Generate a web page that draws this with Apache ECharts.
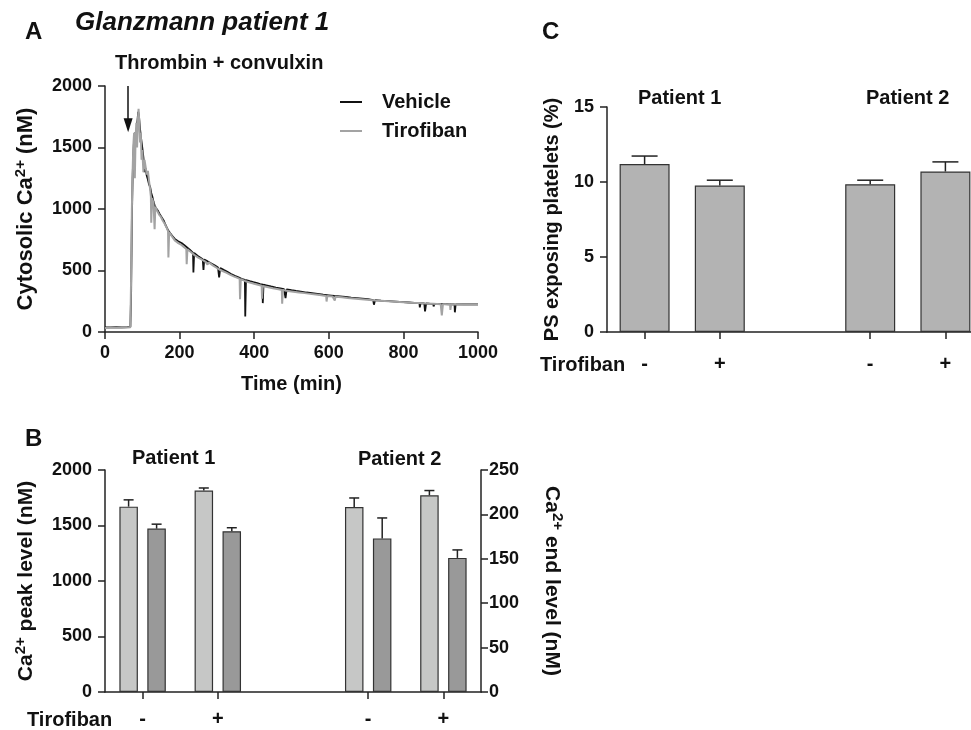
<!DOCTYPE html>
<html><head><meta charset="utf-8">
<script src="https://cdn.jsdelivr.net/npm/echarts@6/dist/echarts.min.js"></script>
<style>html,body{margin:0;padding:0;background:#fff}#c{width:971px;height:730px}</style>
</head><body><div id="c"></div>
<script>
const FONT = '"Liberation Sans", Arial, Helvetica, sans-serif';

// ---------- Panel A: cytosolic Ca2+ traces [time (min), nM] ----------
const vehicleTrace = [[0,38],[15,37],[30,39],[45,38],[60,40],[68,42],[70,300],[72,900],[74,1250],[76,1450],[78,1560],[80,1620],[83,1600],[86,1680],[89,1790],[91,1760],[94,1650],[97,1570],[100,1500],[103,1420],[106,1300],[109,1330],[112,1270],[115,1240],[118,1200],[121,1180],[124,1130],[127,1100],[130,1060],[133,1030],[136,1010],[139,995],[142,985],[146,962],[150,942],[155,940],[158,902],[162,872],[166,847],[170,822],[175,802],[180,782],[187,757],[195,740],[205,724],[212,707],[220,687],[228,667],[236,644],[237,484],[239,642],[248,620],[256,604],[262,592],[264,505],[266,590],[275,574],[285,557],[295,540],[303,524],[306,443],[309,520],[318,505],[328,489],[338,472],[348,457],[358,444],[366,432],[375,424],[376,127],[378,422],[388,413],[398,405],[408,398],[416,390],[422,387],[423,235],[425,385],[432,380],[445,370],[458,361],[470,355],[480,349],[484,276],[487,347],[500,340],[512,334],[525,328],[540,321],[555,315],[570,309],[585,303],[600,298],[615,293],[630,289],[645,285],[660,280],[675,276],[690,272],[705,267],[719,260],[721,222],[724,259],[740,255],[760,251],[780,247],[800,243],[815,240],[830,237],[843,234],[844,200],[846,234],[856,232],[858,167],[861,232],[870,230],[880,228],[881,208],[883,228],[895,227],[910,226],[925,225],[937,224],[938,160],[940,224],[955,224],[970,224],[985,225],[1000,225]];
const tirofibanTrace = [[0,33],[15,34],[30,35],[45,34],[60,36],[68,38],[70,450],[72,1000],[74,1300],[76,1520],[78,1620],[80,1250],[82,1580],[84,1700],[86,1500],[88,1720],[90,1815],[92,1700],[94,1540],[96,1620],[98,1400],[100,1480],[103,1300],[106,1400],[109,1340],[112,1280],[115,1310],[118,1230],[121,1160],[123,1100],[124,889],[126,1090],[130,1050],[133,835],[135,1020],[140,985],[145,955],[150,935],[155,905],[160,880],[165,850],[169,820],[170,605],[172,812],[180,775],[187,745],[195,725],[205,708],[212,690],[218,675],[219,551],[221,672],[230,650],[240,625],[250,605],[260,588],[270,570],[275,548],[278,566],[290,540],[300,520],[312,500],[325,482],[335,466],[345,452],[355,440],[361,432],[362,267],[364,430],[375,415],[388,402],[400,392],[410,384],[420,376],[421,270],[423,374],[435,366],[450,356],[465,348],[474,342],[475,230],[477,341],[490,334],[505,328],[520,322],[535,316],[550,310],[565,304],[580,298],[593,292],[594,248],[596,292],[610,288],[615,288],[616,255],[618,287],[635,282],[650,277],[665,273],[680,269],[695,265],[710,261],[725,257],[740,254],[760,250],[780,246],[800,242],[820,238],[840,235],[860,232],[880,229],[900,226],[903,135],[906,226],[915,225],[925,224],[926,180],[928,224],[945,223],[960,222],[975,222],[990,222],[1000,222]];
const stimulusTime = 62;
const stimulusArrow = [2000, 1680];

// ---------- Panel B: peak / end levels ----------
const categories = ['Patient 1 -', 'Patient 1 +', 'gap', 'Patient 2 -', 'Patient 2 +'];
const tickLabels = ['-', '+', '', '-', '+'];
const peakMean = [1670, 1815, null, 1667, 1772];
const peakErr  = [61, 23, null, 81, 43];
const endMean  = [184, 181, null, 173, 151];
const endErr   = [5, 4, null, 23, 9];

// ---------- Panel C: PS exposing platelets ----------
const psMean = [11.2, 9.76, null, 9.85, 10.7];
const psErr  = [0.53, 0.36, null, 0.27, 0.64];

function errData(mean, err) {
  const out = [];
  mean.forEach((m, i) => { if (m != null) out.push([i, m + err[i], m]); });
  return out;
}
function errorBarRenderer(offset, capHalf) {
  return function (params, api) {
    const cat = api.value(0);
    const base = api.coord([cat, api.value(2)]);
    const top = api.coord([cat, api.value(1)]);
    const x = base[0] + offset;
    const style = { stroke: '#222', lineWidth: 1.5 };
    return { type: 'group', children: [
      { type: 'line', shape: { x1: x, y1: base[1], x2: x, y2: top[1] }, style },
      { type: 'line', shape: { x1: x - capHalf, y1: top[1], x2: x + capHalf, y2: top[1] }, style }
    ]};
  };
}

const AX = '#222';
const plain = (v) => String(v);
const lab = { fontFamily: FONT, fontWeight: 'bold', fontSize: 18, color: '#111', formatter: plain };
function nameStyle(size) {
  return {
    fontFamily: FONT, fontWeight: 'bold', fontSize: size, color: '#111', lineHeight: 26,
    rich: { sup: { fontFamily: FONT, fontWeight: 'bold', fontSize: 15, color: '#111', verticalAlign: 'top', lineHeight: 14 } }
  };
}
const axisLine = { show: true, lineStyle: { color: AX, width: 1.5 } };
const axisTick = { show: true, inside: false, length: 7, lineStyle: { color: AX, width: 1.5 } };

function catAxis(grid, margin) {
  return {
    type: 'category', gridIndex: grid, data: categories, boundaryGap: true,
    axisLine, axisTick: Object.assign({}, axisTick, { alignWithLabel: true, interval: (i) => i !== 2 }),
    axisLabel: Object.assign({}, lab, { fontSize: 20, interval: 0, margin, formatter: (v, i) => tickLabels[i] }),
    splitLine: { show: false }
  };
}

const chart = echarts.init(document.getElementById('c'), null, { renderer: 'canvas' });
chart.setOption({
  animation: false,
  backgroundColor: '#fff',
  grid: [
    { left: 105, right: 493, top: 86, bottom: 398, outerBoundsMode: 'none', containLabel: false },
    { left: 105, right: 490, top: 470, bottom: 38, outerBoundsMode: 'none', containLabel: false },
    { left: 607, right: -12, top: 107, bottom: 398, outerBoundsMode: 'none', containLabel: false }
  ],
  legend: {
    data: ['Vehicle', 'Tirofiban'], orient: 'vertical', left: 340, top: 92, padding: 0,
    icon: 'rect', itemWidth: 22, itemHeight: 2, itemGap: 9,
    textStyle: { fontFamily: FONT, fontWeight: 'bold', fontSize: 20, color: '#111', padding: [0, 0, 0, 15] }
  },
  xAxis: [
    { type: 'value', gridIndex: 0, min: 0, max: 1000, interval: 200,
      name: 'Time (min)', nameLocation: 'middle', nameGap: 42,
      nameTextStyle: { fontFamily: FONT, fontWeight: 'bold', fontSize: 20, color: '#111' },
      axisLine, axisTick, axisLabel: Object.assign({}, lab, { margin: 12, showMinLabel: true, showMaxLabel: true }),
      splitLine: { show: false } },
    catAxis(1, 17),
    catAxis(2, 22)
  ],
  yAxis: [
    { type: 'value', gridIndex: 0, min: 0, max: 2000, interval: 500,
      name: 'Cytosolic Ca{sup|2+} (nM)', nameLocation: 'middle', nameGap: 66, nameTextStyle: nameStyle(22),
      axisLine, axisTick, axisLabel: Object.assign({}, lab, { margin: 13 }), splitLine: { show: false } },
    { type: 'value', gridIndex: 1, min: 0, max: 2000, interval: 500,
      name: 'Ca{sup|2+} peak level (nM)', nameLocation: 'middle', nameGap: 66, nameTextStyle: nameStyle(21),
      axisLine, axisTick, axisLabel: Object.assign({}, lab, { margin: 13 }), splitLine: { show: false } },
    { type: 'value', gridIndex: 1, position: 'right', min: 0, max: 250, interval: 50,
      name: 'Ca{sup|2+} end level (nM)', nameLocation: 'middle', nameGap: 58, nameRotate: -90, nameTextStyle: nameStyle(21),
      axisLine, axisTick, axisLabel: Object.assign({}, lab, { margin: 8 }), splitLine: { show: false } },
    { type: 'value', gridIndex: 2, min: 0, max: 15, interval: 5,
      name: 'PS exposing platelets (%)', nameLocation: 'middle', nameGap: 45,
      nameTextStyle: { fontFamily: FONT, fontWeight: 'bold', fontSize: 20, color: '#111' },
      axisLine, axisTick, axisLabel: Object.assign({}, lab, { margin: 13 }), splitLine: { show: false } }
  ],
  series: [
    { name: 'Vehicle', type: 'line', xAxisIndex: 0, yAxisIndex: 0, data: vehicleTrace,
      showSymbol: false, symbol: 'none', lineStyle: { color: '#111', width: 1.8 }, itemStyle: { color: '#111' },
      markLine: { silent: true, symbol: ['none', 'triangle'], symbolSize: [9, 14],
        label: { show: false }, lineStyle: { color: '#111', width: 1.5, type: 'solid' },
        emphasis: { disabled: true },
        data: [[{ coord: [stimulusTime, stimulusArrow[0]] }, { coord: [stimulusTime, stimulusArrow[1]] }]] } },
    { name: 'Tirofiban', type: 'line', xAxisIndex: 0, yAxisIndex: 0, data: tirofibanTrace,
      showSymbol: false, symbol: 'none', lineStyle: { color: '#a3a3a3', width: 2 }, itemStyle: { color: '#a3a3a3' } },

    { name: 'Peak', type: 'bar', xAxisIndex: 1, yAxisIndex: 1, data: peakMean, barWidth: 18.5, barGap: '51%',
      itemStyle: { color: '#c6c7c6', borderColor: '#333', borderWidth: 1.2 } },
    { name: 'End', type: 'bar', xAxisIndex: 1, yAxisIndex: 2, data: endMean, barWidth: 18.5, barGap: '51%',
      itemStyle: { color: '#999999', borderColor: '#333', borderWidth: 1.2 } },
    { type: 'custom', xAxisIndex: 1, yAxisIndex: 1, data: errData(peakMean, peakErr), renderItem: errorBarRenderer(-14, 5), z: 5 },
    { type: 'custom', xAxisIndex: 1, yAxisIndex: 2, data: errData(endMean, endErr), renderItem: errorBarRenderer(14, 5), z: 5 },

    { name: 'PS', type: 'bar', xAxisIndex: 2, yAxisIndex: 3, data: psMean, barWidth: 50,
      itemStyle: { color: '#b3b3b3', borderColor: '#333', borderWidth: 1.2 } },
    { type: 'custom', xAxisIndex: 2, yAxisIndex: 3, data: errData(psMean, psErr), renderItem: errorBarRenderer(0, 13), z: 5 }
  ],
  graphic: [
    { type: 'text', left: 25, top: 20, style: { text: 'A', font: 'bold 24px ' + FONT, fill: '#111' } },
    { type: 'text', left: 75, top: 10, style: { text: 'Glanzmann patient 1', font: 'italic bold 26px ' + FONT, fill: '#111' } },
    { type: 'text', left: 115, top: 53, style: { text: 'Thrombin + convulxin', font: 'bold 20px ' + FONT, fill: '#111' } },
    { type: 'text', left: 25, top: 427, style: { text: 'B', font: 'bold 24px ' + FONT, fill: '#111' } },
    { type: 'text', left: 132, top: 448, style: { text: 'Patient 1', font: 'bold 20px ' + FONT, fill: '#111' } },
    { type: 'text', left: 358, top: 449, style: { text: 'Patient 2', font: 'bold 20px ' + FONT, fill: '#111' } },
    { type: 'text', left: 27, top: 710, style: { text: 'Tirofiban', font: 'bold 20px ' + FONT, fill: '#111' } },
    { type: 'text', left: 542, top: 20, style: { text: 'C', font: 'bold 24px ' + FONT, fill: '#111' } },
    { type: 'text', left: 638, top: 88, style: { text: 'Patient 1', font: 'bold 20px ' + FONT, fill: '#111' } },
    { type: 'text', left: 866, top: 88, style: { text: 'Patient 2', font: 'bold 20px ' + FONT, fill: '#111' } },
    { type: 'text', left: 540, top: 355, style: { text: 'Tirofiban', font: 'bold 20px ' + FONT, fill: '#111' } }
  ]
});
</script>
</body></html>
